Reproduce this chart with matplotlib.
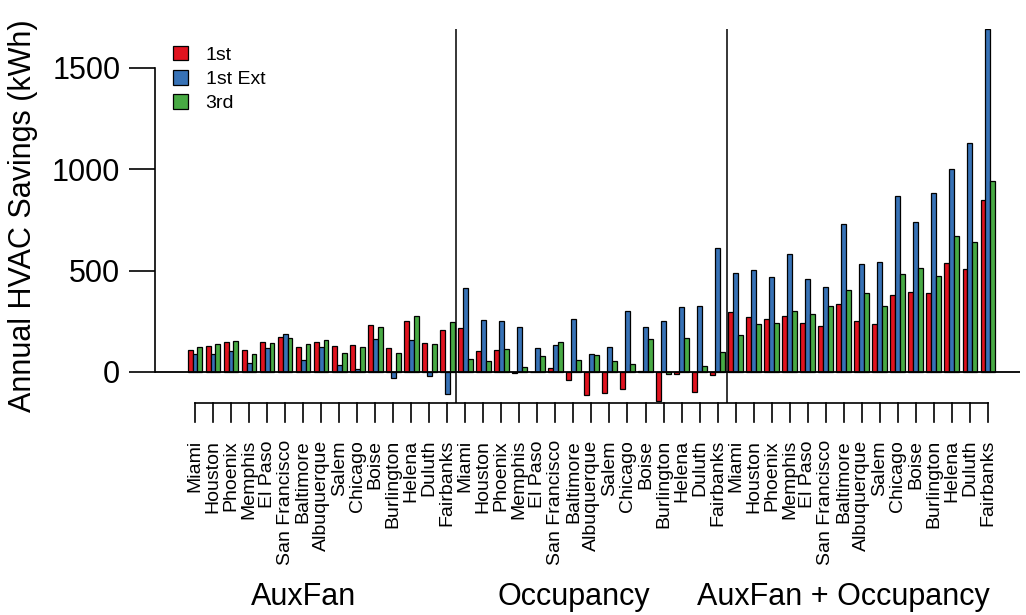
import matplotlib
matplotlib.use("Agg")
import matplotlib.pyplot as plt
import numpy as np

cities = ["Miami", "Houston", "Phoenix", "Memphis", "El Paso", "San Francisco",
          "Baltimore", "Albuquerque", "Salem", "Chicago", "Boise", "Burlington",
          "Helena", "Duluth", "Fairbanks"]
groups = ["AuxFan", "Occupancy", "AuxFan + Occupancy"]
series = ["1st", "1st Ext", "3rd"]
colors = ["#E0131F", "#3772B6", "#48AA44"]

# AuxFan
aux_1st = [107, 128, 146, 108, 146, 171, 125, 150, 128, 135, 232, 118, 252, 141, 206]
aux_ext = [87, 90, 105, 46, 120, 187, 61, 122, 33, 16, 161, -30, 156, -21, -107]
aux_3rd = [123, 140, 155, 90, 145, 168, 136, 156, 95, 125, 220, 94, 276, 138, 245]
# Occupancy
occ_1st = [219, 102, 109, -5, 0, 18, -39, -112, -104, -82, 6, -145, -10, -99, -15]
occ_ext = [413, 255, 250, 224, 117, 133, 261, 87, 125, 299, 220, 250, 319, 327, 610]
occ_3rd = [66, 56, 112, 26, 77, 148, 58, 84, 56, 39, 164, -11, 168, 31, 99]
# AuxFan + Occupancy
both_1st = [296, 271, 260, 275, 243, 227, 337, 253, 237, 380, 395, 390, 536, 510, 847]
both_ext = [490, 502, 469, 581, 461, 419, 729, 531, 544, 867, 740, 885, 1003, 1132, 1692]
both_3rd = [181, 238, 243, 299, 285, 324, 403, 388, 326, 482, 515, 474, 671, 641, 941]

data = [[aux_1st, aux_ext, aux_3rd],
        [occ_1st, occ_ext, occ_3rd],
        [both_1st, both_ext, both_3rd]]

FONT = "Liberation Sans"
ncity = len(cities)
W, H = 1026, 615
fig = plt.figure(figsize=(W / 100, H / 100), dpi=100)
L, R, T, B = 155, 1020, 29, 403
AW, AH = R - L, B - T
ax = fig.add_axes([L / W, 1 - B / H, AW / W, AH / H])
px0, dpx = 195.0, 18.02
xmin = (L - px0) / dpx
xmax = (R - px0) / dpx
YMIN, YMAX = -153, 1692

bw = 0.272
for g in range(3):
    for s in range(3):
        vals = np.array(data[g][s])
        x = np.arange(ncity) + g * ncity + (s - 1) * bw
        ax.bar(x, vals, width=bw, color=colors[s], edgecolor="black",
               linewidth=0.9, zorder=2, label=series[s] if g == 0 else None)

ax.axhline(0, color="black", lw=1.3, zorder=3)
for g in range(1, 3):
    ax.axvline(g * ncity - 0.5, color="black", lw=1.1, zorder=3)

for side in ["top", "right", "bottom"]:
    ax.spines[side].set_visible(False)
ax.spines["left"].set_bounds(0, 1500)
ax.spines["left"].set_linewidth(1.2)
ax.set_yticks([0, 500, 1000, 1500])
ax.set_yticklabels(["0", "500", "1000", "1500"])
ax.tick_params(axis="y", length=19, width=1.2, labelsize=22, pad=6)
for lab in ax.get_yticklabels():
    lab.set_fontfamily(FONT)
ax.set_ylabel("Annual HVAC Savings (kWh)", fontsize=22, family=FONT)
ax.yaxis.set_label_coords(-(L - 38) / AW, 0.5)

# bottom bracket axis
n = 3 * ncity
ax.set_xticks([])
trans = ax.get_xaxis_transform()
ax.plot([0, n - 1], [0, 0], color="black", lw=1.2, clip_on=False, zorder=3,
        transform=trans)
tick_len = 19 / AH
for i in range(n):
    ax.plot([i, i], [0, -tick_len], color="black", lw=1.2, clip_on=False,
            transform=trans)
labels = cities * 3
for i, lab in enumerate(labels):
    ax.text(i, -(440 - B) / AH, lab, rotation=90, ha="center", va="top",
            fontsize=14, family=FONT, transform=trans)
for g, name in enumerate(groups):
    ax.text(g * ncity + 6, -(597 - B) / AH, name, ha="center", va="center",
            fontsize=22, family=FONT, transform=trans)

ax.legend(loc="upper left", bbox_to_anchor=((159 - L) / AW, 1 - (40 - T - 8) / AH),
          frameon=False, handlelength=0.8, handleheight=0.8,
          labelspacing=0.3, handletextpad=0.9, borderaxespad=0.3,
          prop={"family": FONT, "size": 14})

ax.set_xlim(xmin, xmax)
ax.set_ylim(YMIN, YMAX)
fig.savefig("out.png", dpi=100)
